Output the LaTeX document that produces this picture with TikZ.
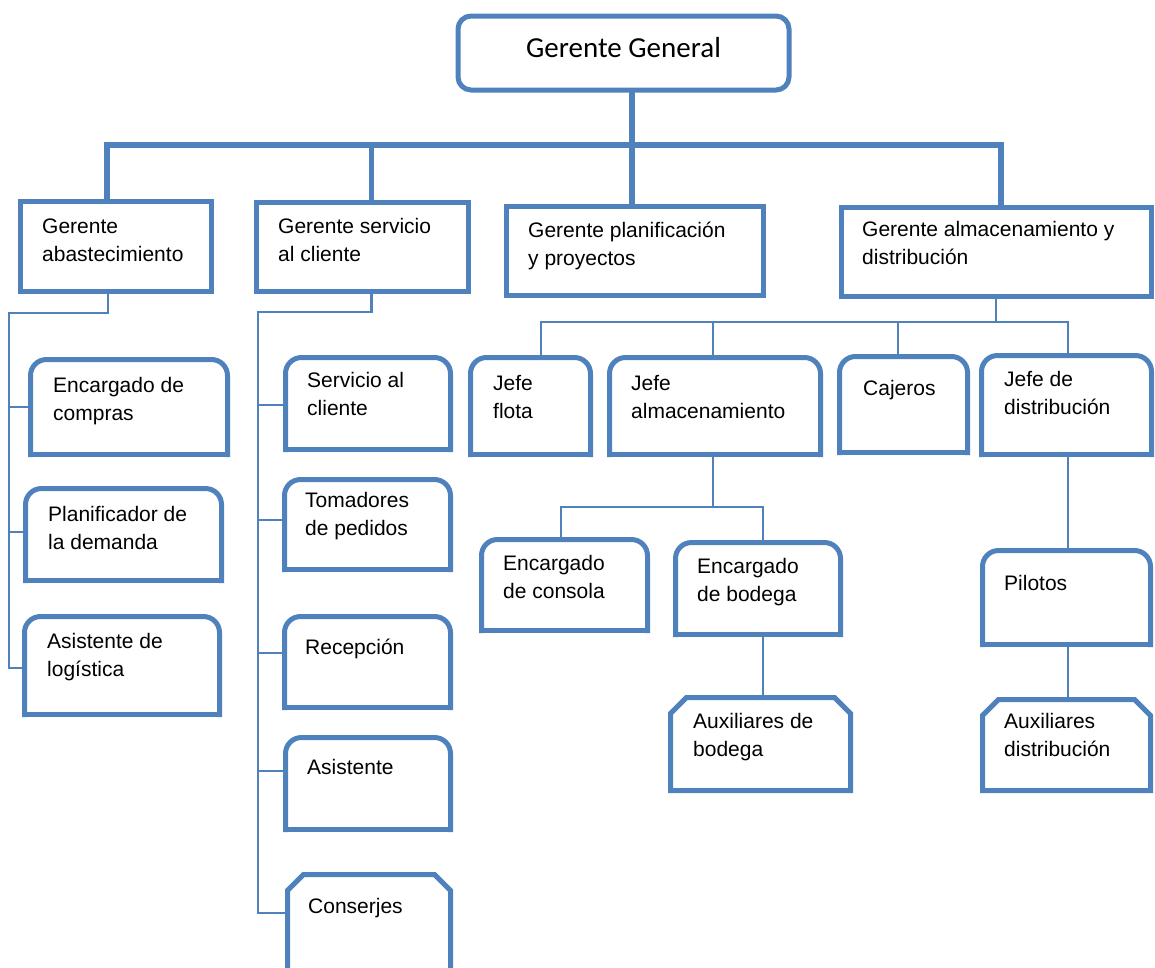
\documentclass[tikz,border=0pt]{standalone}
\usepackage{fontspec}
\setmainfont{Liberation Sans}
\newfontfamily\calibrifont{Carlito}
\definecolor{orgblue}{HTML}{4F81BD}

% invisible node holding the geometry of a box: name, x1, y1, x2, y2
\newcommand\orgbox[6][]{%
  \node[frame,#1,minimum width={(#5-#3)*1pt},minimum height={(#6-#4)*1pt}]
    (#2) at ({(#3+#5)/2},{(#4+#6)/2}) {};}
% outline with rounded top corners and square bottom corners
\newcommand\roundtop[1]{%
  \draw[boxline,rounded corners=16pt] (#1.south west) -- (#1.north west)
     -- (#1.north east) -- (#1.south east);
  \draw[boxline] (#1.south west) -- (#1.south east);}
% outline with both top corners cut off
\newcommand\sniptop[1]{%
  \draw[boxline] (#1.south west) -- ([yshift=-16pt]#1.north west)
     -- ([xshift=16pt]#1.north west) -- ([xshift=-16pt]#1.north east)
     -- ([yshift=-16pt]#1.north east) -- (#1.south east) -- cycle;}
\newcommand\twoline[2]{\vtop{\hbox{#1}\hbox{#2}}}

\tikzset{
  frame/.style={rectangle,inner sep=0pt,outer sep=0pt},
  boxline/.style={draw=orgblue,line width=5pt,line cap=rect},
  heavy/.style={draw=orgblue,line width=5pt},
  bus/.style={draw=orgblue,line width=5.5pt},
  conn/.style={draw=orgblue,line width=2.2pt},
  lbl/.style={anchor=base west,inner sep=0pt,font=\fontsize{21}{28}\selectfont},
}

\begin{document}
\begin{tikzpicture}[x=1pt,y=-1pt]
\useasboundingbox (0,0) rectangle (1155,967);
\clip (0,0) rectangle (1155,967);

% ---- boxes ----
\orgbox[heavy,rounded corners=13pt]{gg}{458}{16}{789}{90}
\orgbox[heavy]{ga}{20}{201}{211}{291}
\orgbox[heavy]{gs}{256.5}{202.5}{468.5}{291.5}
\orgbox[heavy]{gp}{506}{206}{763}{295}
\orgbox[heavy]{gd}{841}{207}{1151}{296}

\orgbox{ec}{30.5}{359.5}{227.5}{454.5}
\orgbox{pd}{25.5}{488.5}{221.5}{580.5}
\orgbox{al}{24.5}{616.5}{219.5}{714.5}

\orgbox{sc}{285.5}{357.5}{450.5}{449.5}
\orgbox{tp}{284.5}{479.5}{450.5}{569.5}
\orgbox{recp}{284.5}{616.5}{450.5}{707.5}
\orgbox{asis}{285.5}{737.5}{450.5}{829.5}
\orgbox{cons}{287.5}{874.5}{450.5}{980}

\orgbox{jf}{470.5}{357.5}{590.5}{454.5}
\orgbox{ja}{609.5}{357.5}{820.5}{454.5}
\orgbox{caj}{839.5}{356.5}{967.5}{452.5}
\orgbox{jd}{981.5}{355.5}{1151.5}{454.5}

\orgbox{ecn}{481.5}{539.5}{647.5}{630.5}
\orgbox{eb}{675.5}{542.5}{840.5}{634.5}
\orgbox{ab}{670.5}{697.5}{850.5}{790.5}
\orgbox{pil}{982.5}{550.5}{1150.5}{644.5}
\orgbox{ad}{982.5}{699.5}{1150.5}{790.5}

% ---- junction points ----
\coordinate (bus) at (632,145);
\coordinate (lj) at (9,313);
\coordinate (cj) at (258,312);
\coordinate (rj) at (996,322);
\coordinate (sj) at (713,507);

% ---- main bus ----
\draw[bus] (bus) -- (bus |- gg.south);
\draw[bus] ([xshift=-8.5pt]ga.north) |- (bus) -| ([xshift=5pt]gd.north);
\draw[bus] (bus) -- (bus |- gp.north);
\draw[bus] ([xshift=9pt]gs.north) -- ([xshift=9pt]gs.north |- bus);

% ---- supply column ----
\draw[conn] ([xshift=-7.5pt]ga.south) |- (lj) |- (ec.west);
\draw[conn] (lj) |- ([yshift=2.5pt]pd.west);
\draw[conn] (lj) |- ([yshift=-2.5pt]al.west);

% ---- customer service column ----
\draw[conn] ([xshift=9pt]gs.south) |- (cj) |- ([yshift=-1.5pt]sc.west);
\draw[conn] (cj) |- ([yshift=4.5pt]tp.west);
\draw[conn] (cj) |- ([yshift=9pt]recp.west);
\draw[conn] (cj) |- ([yshift=12.5pt]asis.west);
\draw[conn] (cj) |- ([yshift=14.25pt]cons.west);

% ---- storage and distribution ----
\draw[conn] (gd.south) -- (rj);
\draw[conn] ([xshift=10.5pt]jf.north) |- (rj) -| ([xshift=1.5pt]jd.north);
\draw[conn] ([xshift=-2pt]ja.north |- rj) -- ([xshift=-2pt]ja.north);
\draw[conn] ([xshift=-5.5pt]caj.north |- rj) -- ([xshift=-5.5pt]caj.north);
\draw[conn] ([xshift=-2pt]ja.south) -- (sj);
\draw[conn] ([xshift=-3.5pt]ecn.north) |- (sj) -| ([xshift=5pt]eb.north);
\draw[conn] ([xshift=5pt]eb.south) -- ([xshift=2.5pt]ab.north);
\draw[conn] ([xshift=1.5pt]jd.south) -- ([xshift=1.5pt]pil.north);
\draw[conn] ([xshift=1.5pt]pil.south) -- ([xshift=1.5pt]ad.north);

% ---- outlines ----
\roundtop{ec}\roundtop{pd}\roundtop{al}
\roundtop{sc}\roundtop{tp}\roundtop{recp}\roundtop{asis}
\sniptop{cons}
\roundtop{jf}\roundtop{ja}\roundtop{caj}\roundtop{jd}
\roundtop{ecn}\roundtop{eb}\roundtop{pil}
\sniptop{ab}\sniptop{ad}

% ---- labels ----
\node[anchor=base,inner sep=0pt,font=\calibrifont\fontsize{29}{35}\selectfont]
  (ggt) at (623.5,57) {Gerente General};
\node[lbl] (gat) at (42,233) {\twoline{Gerente}{abastecimiento}};
\node[lbl] (gst) at (278,233) {\twoline{Gerente servicio}{al cliente}};
\node[lbl] (gpt) at (528,237) {\twoline{Gerente planificación}{y proyectos}};
\node[lbl] (gdt) at (862,236) {\twoline{Gerente almacenamiento y}{distribución}};

\node[lbl] (ect) at (53,392) {\twoline{Encargado de}{compras}};
\node[lbl] (pdt) at (48,521) {\twoline{Planificador de}{la demanda}};
\node[lbl] (alt) at (47,648) {\twoline{Asistente de}{logística}};

\node[lbl] (sct) at (307,387) {\twoline{Servicio al}{cliente}};
\node[lbl] (tpt) at (305,507) {\twoline{Tomadores}{de pedidos}};
\node[lbl] (recpt) at (305,654) {Recepción};
\node[lbl] (asist) at (307,774) {Asistente};
\node[lbl] (const) at (308,913) {Conserjes};

\node[lbl] (jft) at (493,390) {\twoline{Jefe}{flota}};
\node[lbl] (jat) at (631,390) {\twoline{Jefe}{almacenamiento}};
\node[lbl] (cajt) at (863,395) {Cajeros};
\node[lbl] (jdt) at (1004,386) {\twoline{Jefe de}{distribución}};

\node[lbl] (ecnt) at (503,570) {\twoline{Encargado}{de consola}};
\node[lbl] (ebt) at (697,573) {\twoline{Encargado}{de bodega}};
\node[lbl] (abt) at (693,728) {\twoline{Auxiliares de}{bodega}};
\node[lbl] (pilt) at (1004,590) {Pilotos};
\node[lbl] (adt) at (1004,728) {\twoline{Auxiliares}{distribución}};
\end{tikzpicture}
\end{document}
